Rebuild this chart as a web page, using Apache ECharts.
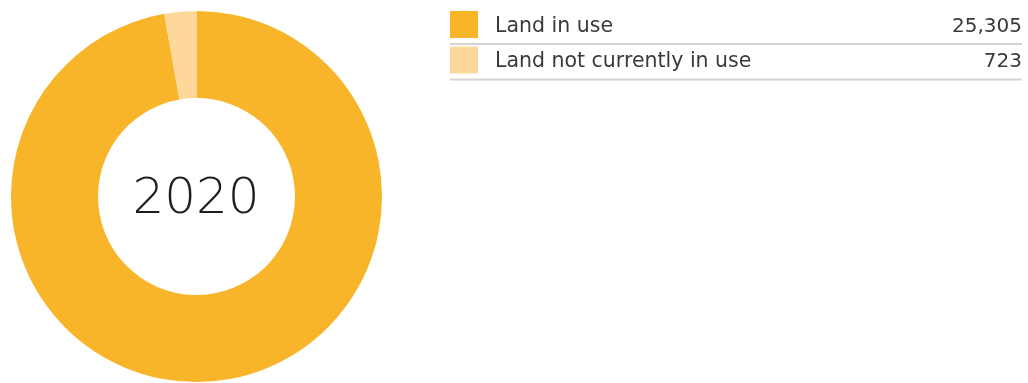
<!DOCTYPE html>
<html>
<head>
<meta charset="utf-8">
<script src="https://cdn.jsdelivr.net/npm/echarts@6/dist/echarts.min.js"></script>
<style>
html,body{margin:0;padding:0;background:#fff;}
#chart{width:1028px;height:383px;}
</style>
</head>
<body>
<div id="chart"></div>
<script>
const categories = ['Land in use', 'Land not currently in use'];
const values = [25305, 723];
const colors = ['#F8B52A', '#FDD89A'];
const centerLabel = '2020';

const chart = echarts.init(document.getElementById('chart'), null, {renderer: 'canvas'});
const fmt = v => v.toLocaleString('en-US');

const rowTop = 11, rowH = 35.5;
const lines = categories.map((c, i) => ({
  type: 'rect',
  shape: {x: 450, y: rowTop + rowH * (i + 1) - 3.5, width: 572, height: 2},
  style: {fill: '#d4d4d4'},
  silent: true
}));

chart.setOption({
  animation: false,
  color: colors,
  legend: {
    orient: 'vertical',
    left: 450,
    top: rowTop,
    padding: 0,
    itemWidth: 28,
    itemHeight: 27,
    itemGap: 8.5,
    icon: 'rect',
    selectedMode: false,
    data: categories,
    formatter: name => {
      const i = categories.indexOf(name);
      return '{n|' + name + '}{v|' + fmt(values[i]) + '}';
    },
    textStyle: {
      padding: [4, 0, 0, 12],
      rich: {
        n: {width: 400, fontSize: 20.5, fontFamily: 'DejaVu Sans', color: '#3a3a3a'},
        v: {width: 127, align: 'right', fontSize: 20, fontFamily: 'DejaVu Sans', color: '#3a3a3a'}
      }
    }
  },
  graphic: lines.concat([{
    type: 'text',
    x: 196,
    y: 200,
    style: {
      text: centerLabel,
      font: '200 50px "DejaVu Sans"',
      fill: '#1e1e1e',
      textAlign: 'center',
      textVerticalAlign: 'middle'
    }
  }]),
  series: [{
    type: 'pie',
    center: [196.5, 196.5],
    radius: [98.5, 185.5],
    startAngle: 90,
    clockwise: true,
    label: {show: false},
    labelLine: {show: false},
    emphasis: {disabled: true},
    itemStyle: {borderWidth: 0},
    data: categories.map((c, i) => ({name: c, value: values[i]}))
  }]
});
</script>
</body>
</html>
